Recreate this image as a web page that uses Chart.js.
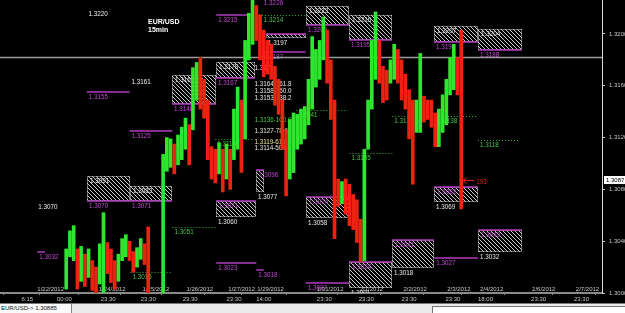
<!DOCTYPE html>
<html>
<head>
<meta charset="utf-8">
<script src="https://cdn.jsdelivr.net/npm/chart.js@4.4.1/dist/chart.umd.min.js"></script>
<style>
  body { margin: 0; background: #000; width: 625px; height: 313px; overflow: hidden; position: relative; font-family: "Liberation Sans", Arial, sans-serif; }
  #wrap { position: absolute; left: 0; top: 0; width: 625px; height: 303px; }
  #titulo { position: absolute; left: 148px; top: 18px; color: #fff; font-size: 7px; font-weight: bold; line-height: 8px; }
  #abas { position: absolute; left: 0; top: 303px; width: 625px; height: 10px; background: #ececec; border-top: 1px solid #777; box-sizing: border-box; }
  #aba { position: absolute; left: 0; top: 0; width: 72px; height: 9px; background: #fafafa; border-right: 1px solid #888; font-size: 6px; line-height: 9px; color: #111; padding-left: 1px; box-sizing: border-box; }
  #caixa { position: absolute; left: 432px; top: 2px; width: 193px; height: 8px; background: #fff; border-left: 1px solid #777; border-top: 1px solid #777; box-sizing: border-box; }
</style>
</head>
<body>
<div id="wrap"><canvas id="grafico" width="625" height="303"></canvas></div>
<div id="titulo">EUR/USD<br>15min</div>
<div id="abas"><div id="aba">EUR/USD-&gt; 1.30885</div><div id="caixa"></div></div>
<script>
// candles (barra inicial + maximas / minimas)
const firstBar = 12;
const highs = [
  1.3034, 1.3048, 1.3052, 1.3034, 1.3036, 1.3030, 1.3034, 1.3025, 1.3020, 1.3038,
  1.3062, 1.3039, 1.3034, 1.3025, 1.3030, 1.3042, 1.3045, 1.3040, 1.3032, 1.3035,
  1.3042, 1.3038, 1.3051, 1.2998, 1.2995, 1.2997, 1.3107, 1.3120, 1.3119, 1.3115,
  1.3122, 1.3128, 1.3135, 1.3130, 1.3174, 1.3178, 1.3182, 1.3165, 1.3149, 1.3113,
  1.3111, 1.3116, 1.3111, 1.3115, 1.3111, 1.3142, 1.3159, 1.3149, 1.3195, 1.3216,
  1.3226, 1.3222, 1.3215, 1.3203, 1.3195, 1.3192, 1.3175, 1.3165, 1.3149, 1.3126,
  1.3134, 1.3139, 1.3138, 1.3142, 1.3144, 1.3165, 1.3198, 1.3188, 1.3195, 1.3213,
  1.3203, 1.3180, 1.3149, 1.3088, 1.3086, 1.3088, 1.3084, 1.3076, 1.3072, 1.3057,
  1.3111, 1.3149, 1.3195, 1.3217, 1.3195, 1.3175, 1.3172, 1.3180, 1.3192, 1.3188,
  1.3180, 1.3169, 1.3157, 1.3149, 1.3149, 1.3185, 1.3152, 1.3149, 1.3149, 1.3139,
  1.3142, 1.3153, 1.3165, 1.3182, 1.3192, 1.3182, 1.3203
];
const lows = [
  1.3003, 1.3028, 1.3025, 1.3003, 1.3009, 1.3005, 1.3012, 1.3002, 1.2996, 1.3007,
  1.2998, 1.3015, 1.3008, 1.3003, 1.3009, 1.3025, 1.3028, 1.3025, 1.3016, 1.3020,
  1.3026, 1.3022, 1.2996, 1.2985, 1.2982, 1.2985, 1.2998, 1.3094, 1.3097, 1.3092,
  1.3099, 1.3103, 1.3111, 1.3099, 1.3126, 1.3149, 1.3142, 1.3135, 1.3103, 1.3088,
  1.3085, 1.3092, 1.3078, 1.3088, 1.3080, 1.3103, 1.3111, 1.3093, 1.3119, 1.3180,
  1.3192, 1.3195, 1.3180, 1.3167, 1.3169, 1.3165, 1.3145, 1.3138, 1.3111, 1.3075,
  1.3088, 1.3093, 1.3111, 1.3115, 1.3119, 1.3130, 1.3142, 1.3159, 1.3165, 1.3180,
  1.3162, 1.3134, 1.3042, 1.3067, 1.3069, 1.3061, 1.3052, 1.3049, 1.3039, 1.3024,
  1.3025, 1.3111, 1.3142, 1.3165, 1.3162, 1.3147, 1.3149, 1.3162, 1.3165, 1.3162,
  1.3149, 1.3142, 1.3119, 1.3084, 1.3124, 1.3124, 1.3132, 1.3134, 1.3128, 1.3113,
  1.3113, 1.3124, 1.3130, 1.3153, 1.3157, 1.3153, 1.3065
];

// eixos
const priceMin = 1.3000;
const priceMax = 1.322625;
const priceTicks = [1.3000, 1.3040, 1.3080, 1.3120, 1.3160, 1.3200];
const barsVisible = 150;
const timeBars = [0, 9.5, 21.25, 32, 43.25, 55, 63, 79.25, 90.5, 102, 113.75, 122.5, 136.75, 148.25];
const timeLabels = ['6:15', '00:00', '23:30', '23:30', '23:30', '23:30', '14:00', '23:30', '23:30', '23:30', '23:30', '18:00', '23:30', '23:30'];
const dateBars = [4.25, 20.75, 32.5, 44.25, 55.5, 63.25, 79.25, 90.75, 102.5, 114.25, 123, 137, 148.75];
const dateLabels = ['1/22/2012', '1/24/2012', '1/25/2012', '1/26/2012', '1/27/2012', '1/29/2012', '1/31/2012', '2/1/2012', '2/2/2012', '2/3/2012', '2/4/2012', '2/6/2012', '2/7/2012'];

// linha cinza, preco atual
const crossPrice = 1.3182;
const lastPrice = 1.3087;
const arrowBars = [118.5, 121.5];
const arrowText = '193';

// zonas: [de, ate, topo, fundo, texto topo, texto fundo]
const supplyZones = [
  [40.5, 52.25, 1.3168, 1.3146, '1.3168', '1.3146'],
  [52.25, 62.75, 1.3178, 1.3166, '1.3178', '1.3167'],
  [76.25, 88, 1.3222, 1.3207, '1.3223', '1.3208'],
  [88, 99.5, 1.3215, 1.3195, '1.3216', '1.3195'],
  [110.75, 122.5, 1.3206, 1.3194, '1.3207', '1.3194'],
  [122.5, 134.25, 1.3204, 1.3188, '1.3204', '1.3188'],
  [17.5, 29, 1.3090, 1.3071, '1.3091', '1.3070'],
  [29, 40.5, 1.3083, 1.3071, '1.3083', '1.3071']
];
const demandZones = [
  [65.5, 76.25, 1.3200, 1.3197, '', '1.3197'],
  [52.25, 63, 1.3071, 1.3059, '1.3071', '1.3060'],
  [63, 65, 1.3095, 1.3078, '1.3096', '1.3077'],
  [76.25, 88, 1.3074, 1.3058, '1.3074', '1.3058'],
  [88, 99.5, 1.3024, 1.3004, '1.3024', '1.3001'],
  [99.5, 110.75, 1.3041, 1.3019, '1.3041', '1.3018'],
  [110.75, 122.5, 1.3082, 1.3070, '1.3082', '1.3069'],
  [122.5, 134.25, 1.3049, 1.3032, '1.3049', '1.3032']
];
// linhas magenta e verdes: [de, ate, preco, texto]
const magentaLines = [
  [17.5, 29, 1.3155, '1.3155'],
  [29, 40.5, 1.3125, '1.3125'],
  [52.25, 61.5, 1.3215, '1.3215'],
  [64.5, 76.25, 1.3186, '1.3187'],
  [64.5, 76.25, 1.3228, '1.3226'],
  [4.25, 6.25, 1.3032, '1.3032'],
  [52.25, 63, 1.3023, '1.3023'],
  [63, 65, 1.3018, '1.3018'],
  [76.25, 88, 1.3008, '1.3007'],
  [110.75, 122.5, 1.3027, '1.3027']
];
const greenLines = [
  [64.5, 76.25, 1.3215, '1.3214'],
  [40.5, 52.5, 1.3051, '1.3051'],
  [29.25, 40.5, 1.3016, '1.3015'],
  [52, 62.5, 1.3119, '1.3119'],
  [73.75, 87.5, 1.3141, '1.3141'],
  [88, 99.5, 1.3108, '1.3105'],
  [99.5, 111.25, 1.3137, '1.3137'],
  [111.25, 122.5, 1.3137, '1.3138'],
  [122.5, 133.75, 1.3118, '1.3118']
];
// textos soltos: [barra, preco, texto]
const freeTexts = [
  [18, 1.3215, '1.3220'],
  [29.5, 1.3163, '1.3161'],
  [4.5, 1.3066, '1.3070']
];
// fibonacci
const fibBar = 62.5;
const fibPrices = [1.3176, 1.3164, 1.3158, 1.3153, 1.3136, 1.3127, 1.3119, 1.3114];
const fibTexts = ['1.3176', '1.3164-161.8', '1.3158-150.0', '1.3153-138.2', '1.3136-100.0', '1.3127-78.6', '1.3119-61.8', '1.3114-50.0'];
const fibColors = ['#e8e8e8', '#e8e8e8', '#e8e8e8', '#e8e8e8', '#4cc44c', '#e8e8d0', '#e6e6a0', '#e8e8e8'];

const FONT = '"Liberation Sans", Arial, sans-serif';
const GREEN = '#2ee62e';
const RED = '#ee2211';
const MAGENTA = '#b23cbf';
const DOTGREEN = '#3cb43c';

const barColors = highs.map(function(h, i) {
  if (i === 0) return GREEN;
  return (h + lows[i]) >= (highs[i - 1] + lows[i - 1]) ? GREEN : RED;
});

// padrao hachurado
function makeHatch(ctx) {
  const c = document.createElement('canvas');
  c.width = 4; c.height = 4;
  const g = c.getContext('2d');
  g.strokeStyle = '#c8c8c8';
  g.lineWidth = 1;
  g.beginPath();
  g.moveTo(-1, -1); g.lineTo(5, 5);
  g.moveTo(-1, 3); g.lineTo(1, 5);
  g.moveTo(3, -1); g.lineTo(5, 1);
  g.stroke();
  return ctx.createPattern(c, 'repeat');
}

function label(ctx, text, x, y, color) {
  ctx.fillStyle = color;
  ctx.fillText(text, x, y);
}

const desenhos = {
  id: 'desenhos',
  beforeDatasetsDraw(chart) {
    const ctx = chart.ctx;
    const area = chart.chartArea;
    const xs = chart.scales.x;
    const ys = chart.scales.y;
    ctx.save();
    ctx.beginPath();
    ctx.rect(area.left, area.top, area.right - area.left, area.bottom - area.top);
    ctx.clip();
    ctx.font = '6.3px ' + FONT;
    ctx.textBaseline = 'top';
    ctx.textAlign = 'left';

    const hatch = makeHatch(ctx);
    function zone(z, lineOnTop) {
      const x0 = Math.round(xs.getPixelForValue(z[0]));
      const x1 = Math.round(xs.getPixelForValue(z[1]));
      const yT = Math.round(ys.getPixelForValue(z[2]));
      const yB = Math.round(ys.getPixelForValue(z[3]));
      ctx.fillStyle = hatch;
      ctx.fillRect(x0, yT, x1 - x0, yB - yT);
      ctx.setLineDash([1, 1]);
      ctx.strokeStyle = '#cfcfcf';
      ctx.lineWidth = 1;
      ctx.strokeRect(x0 + 0.5, yT + 0.5, x1 - x0 - 1, yB - yT - 1);
      ctx.setLineDash([]);
      ctx.strokeStyle = MAGENTA;
      ctx.lineWidth = 1.5;
      ctx.beginPath();
      const yl = lineOnTop ? yT : yB;
      ctx.moveTo(x0, yl); ctx.lineTo(x1, yl);
      ctx.stroke();
      if (lineOnTop) {
        if (z[4]) label(ctx, z[4], x0 + 3, yT + 2, '#c048d0');
        label(ctx, z[5], x0 + 2, yB + 2, '#e8e8e8');
      } else {
        label(ctx, z[4], x0 + 3, yT + 2, '#e8e8e8');
        label(ctx, z[5], x0 + 2, yB + 2, '#c048d0');
      }
    }
    supplyZones.forEach(function(z) { zone(z, false); });
    demandZones.forEach(function(z) { zone(z, true); });

    magentaLines.forEach(function(l) {
      const x0 = xs.getPixelForValue(l[0]);
      const x1 = xs.getPixelForValue(l[1]);
      const y = Math.round(ys.getPixelForValue(l[2]));
      ctx.strokeStyle = MAGENTA;
      ctx.lineWidth = 1.5;
      ctx.beginPath(); ctx.moveTo(x0, y); ctx.lineTo(x1, y); ctx.stroke();
      label(ctx, l[3], x0 + 2, y + 2, '#c048d0');
    });

    greenLines.forEach(function(l) {
      const x0 = xs.getPixelForValue(l[0]);
      const x1 = xs.getPixelForValue(l[1]);
      const y = Math.round(ys.getPixelForValue(l[2])) + 0.5;
      ctx.strokeStyle = DOTGREEN;
      ctx.lineWidth = 1;
      ctx.setLineDash([1, 2]);
      ctx.beginPath(); ctx.moveTo(x0, y); ctx.lineTo(x1, y); ctx.stroke();
      ctx.setLineDash([]);
      label(ctx, l[3], x0 + 2, y + 2, '#4cc44c');
    });

    fibPrices.forEach(function(p, i) {
      label(ctx, fibTexts[i], xs.getPixelForValue(fibBar), ys.getPixelForValue(p), fibColors[i]);
    });

    ctx.textBaseline = 'middle';
    freeTexts.forEach(function(t) {
      label(ctx, t[2], xs.getPixelForValue(t[0]), ys.getPixelForValue(t[1]), '#f0f0f0');
    });

    // linha cinza horizontal
    const yc = Math.round(ys.getPixelForValue(crossPrice)) + 0.5;
    ctx.strokeStyle = '#9a9a9a';
    ctx.lineWidth = 1.5;
    ctx.beginPath(); ctx.moveTo(area.left, yc); ctx.lineTo(area.right, yc); ctx.stroke();

    // datas acima do eixo
    ctx.font = '6px ' + FONT;
    ctx.textBaseline = 'bottom';
    dateBars.forEach(function(b, i) {
      label(ctx, dateLabels[i], xs.getPixelForValue(b), area.bottom - 1, '#c8c8c8');
    });
    ctx.restore();
  },
  afterDraw(chart) {
    const ctx = chart.ctx;
    const area = chart.chartArea;
    const xs = chart.scales.x;
    const ys = chart.scales.y;
    const y = Math.round(ys.getPixelForValue(lastPrice));
    ctx.save();
    // seta vermelha
    const ax0 = xs.getPixelForValue(arrowBars[0]);
    const ax1 = xs.getPixelForValue(arrowBars[1]);
    ctx.strokeStyle = '#e02020';
    ctx.lineWidth = 1;
    ctx.beginPath();
    ctx.moveTo(ax1, y + 0.5); ctx.lineTo(ax0, y + 0.5);
    ctx.moveTo(ax0 + 4, y - 2.5); ctx.lineTo(ax0, y + 0.5); ctx.lineTo(ax0 + 4, y + 3.5);
    ctx.stroke();
    ctx.font = '6.3px ' + FONT;
    ctx.textBaseline = 'middle';
    ctx.textAlign = 'left';
    label(ctx, arrowText, ax1 + 2, y + 2, '#e02020');
    // caixa do preco atual
    ctx.fillStyle = '#ffffff';
    ctx.fillRect(area.right + 2, y - 4, 21, 8);
    ctx.font = '6px ' + FONT;
    label(ctx, lastPrice.toFixed(4), area.right + 4, y, '#000');
    ctx.restore();
  }
};

const ctx = document.getElementById('grafico').getContext('2d');

const grafico = new Chart(ctx, {
  type: 'bar',
  data: {
    datasets: [{
      data: highs.map(function(h, i) { return { x: firstBar + i, y: [lows[i], h] }; }),
      backgroundColor: barColors,
      borderWidth: 0,
      barThickness: 3
    }]
  },
  options: {
    responsive: false,
    animation: false,
    layout: { padding: 0 },
    plugins: { legend: { display: false }, tooltip: { enabled: false } },
    scales: {
      x: {
        type: 'linear',
        min: 0,
        max: barsVisible,
        afterBuildTicks: function(s) { s.ticks = timeBars.map(function(v) { return { value: v }; }); },
        ticks: {
          autoSkip: false, maxRotation: 0, align: 'start', padding: 1,
          color: '#c8c8c8', font: { size: 6, family: FONT },
          callback: function(v, i) { return timeLabels[i]; }
        },
        grid: { drawOnChartArea: false, tickLength: 2, color: '#8a8a8a' },
        border: { color: '#8a8a8a', width: 2 },
        afterFit: function(s) { s.height = 10; s.paddingLeft = 0; s.paddingRight = 0; }
      },
      y: {
        position: 'right',
        min: priceMin,
        max: priceMax,
        afterBuildTicks: function(s) { s.ticks = priceTicks.map(function(v) { return { value: v }; }); },
        ticks: {
          color: '#c8c8c8', font: { size: 6, family: FONT }, padding: 4,
          callback: function(v) { return v.toFixed(4); }
        },
        grid: { drawOnChartArea: false, tickLength: 3, color: '#c8c8c8' },
        border: { color: '#d8d8d8', width: 1 },
        afterFit: function(s) { s.width = 23; s.paddingTop = 0; s.paddingBottom = 0; }
      }
    }
  },
  plugins: [desenhos]
});
</script>
</body>
</html>
